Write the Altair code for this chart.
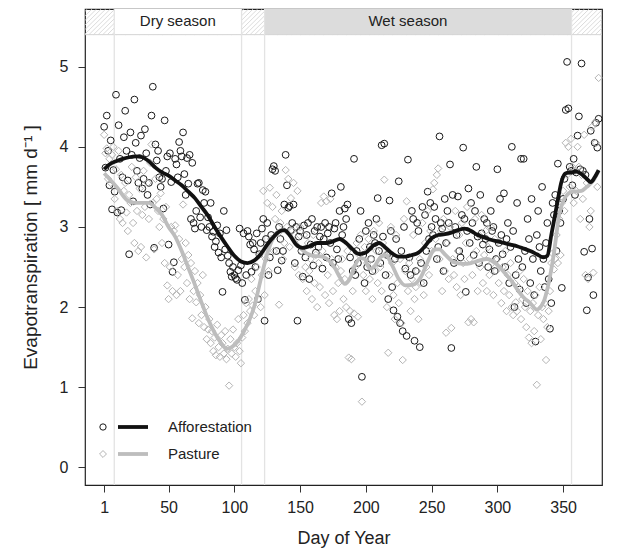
import altair as alt
import pandas as pd
import numpy as np

# ---------------- data ----------------
# Daily evapotranspiration, Afforestation (circles)
AF = [4.25, 3.74, 4.39, 3.95, 3.52, 4.08, 3.22, 3.71, 3.44, 4.65,
      3.18, 4.27, 3.85, 3.21, 3.62, 4.12, 4.45, 3.95, 3.58, 2.66,
      4.18, 3.90, 3.32, 4.59, 4.05, 3.70, 3.55, 3.86, 4.14, 3.48,
      3.60, 4.22, 3.92, 3.40, 3.55, 3.28, 4.39, 4.75, 2.74, 4.03,
      3.83, 3.95, 3.62, 3.50, 3.60, 3.23, 4.33, 3.70, 3.88, 2.78,
      3.92, 3.56, 2.44, 2.56, 3.85, 3.78, 3.62, 4.06, 3.95, 3.88,
      4.18, 3.66, 3.40, 3.86, 3.54, 3.90, 3.10, 3.80, 3.05, 2.98,
      3.20, 3.54, 3.55, 3.12, 3.00, 3.46, 3.30, 3.44, 2.96, 3.12,
      3.00, 3.30, 2.88, 2.94, 2.75, 2.82, 3.02, 2.68, 2.92, 2.62,
      2.19, 3.20, 2.72, 2.96, 2.64, 2.55, 2.44, 2.38, 2.50, 2.40,
      2.36, 2.34, 2.46, 2.98, 2.52, 2.30, 2.92, 2.09, 2.40, 2.95,
      2.88, 2.78, 2.44, 2.80, 2.72, 2.50, 2.92, 2.10, 2.66, 2.80,
      2.98, 3.10, 1.83, 2.85, 3.05, 2.40, 2.62, 2.90, 3.72, 3.76,
      3.70, 2.70, 2.46, 3.00, 2.85, 2.58, 2.70, 3.28, 3.90, 3.52,
      3.24, 3.26, 2.96, 3.05, 3.28, 2.55, 3.00, 1.83, 2.88, 2.95,
      2.70, 2.38, 3.02, 2.62, 2.90, 3.05, 2.35, 2.78, 3.10, 2.52,
      2.95, 2.68, 3.00, 2.75, 2.88, 3.00, 2.48, 2.85, 3.05, 2.62,
      2.92, 3.00, 2.80, 3.42, 2.55, 2.98, 3.05, 2.72, 2.60, 3.20,
      3.50, 2.90, 3.00, 3.23, 3.10, 3.28, 1.85, 2.62, 1.80, 2.45,
      3.85, 2.40, 2.70, 2.55, 2.85, 3.20, 1.13, 2.65, 2.30, 2.95,
      2.50, 3.05, 2.75, 2.60, 2.45, 2.90, 2.80, 3.10, 3.36, 2.70,
      2.55, 4.02, 2.88, 4.04, 2.40, 2.65, 2.10, 3.33, 2.95, 2.25,
      1.96, 2.60, 2.85, 1.88, 3.57, 1.80, 2.70, 1.70, 3.00, 2.48,
      1.64, 3.84, 2.62, 2.40, 3.20, 3.10, 1.58, 2.45, 3.05, 2.95,
      1.50, 2.55, 3.25, 2.30, 3.15, 2.70, 3.44, 2.85, 3.30, 3.00,
      2.90, 3.25, 3.10, 2.60, 2.75, 4.13, 3.05, 2.98, 2.45, 3.35,
      2.80, 3.20, 3.05, 3.78, 1.49, 3.40, 2.55, 3.00, 2.90, 3.38,
      2.70, 2.62, 3.15, 3.99, 3.10, 2.19, 2.95, 3.48, 2.80, 3.30,
      3.05, 2.65, 3.20, 3.75, 2.88, 2.55, 3.40, 2.92, 2.78, 3.10,
      2.85, 3.05, 2.50, 2.72, 3.20, 2.95, 3.00, 2.45, 2.60, 3.72,
      2.80, 3.35, 2.90, 2.66, 3.42, 2.50, 2.85, 3.05, 2.30, 2.75,
      4.00, 2.95, 2.00, 2.40, 3.30, 2.60, 2.22, 3.85, 2.50, 3.85,
      2.70, 2.05, 3.10, 2.85, 2.30, 3.35, 2.60, 2.15, 1.57, 2.90,
      3.20, 2.75, 2.45, 3.50, 2.60, 2.25, 2.80, 3.05, 2.35, 1.73,
      2.05, 3.30, 3.15, 3.40, 2.70, 3.79, 3.20, 3.05, 2.24, 3.35,
      3.60, 4.46, 5.06, 4.48, 3.75, 3.70, 3.52, 3.85, 3.40, 3.68,
      4.14, 4.38, 3.72, 5.04, 3.70, 2.69, 3.65, 1.96, 2.37, 3.10,
      4.20, 2.73, 2.15, 4.05, 4.30, 3.99, 4.35]

# Daily evapotranspiration, Pasture (diamonds)
PA = [4.15, 3.92, 3.98, 3.60, 3.85, 3.55, 3.90, 4.00, 3.35, 3.72,
      3.20, 3.95, 3.10, 3.65, 3.05, 3.45, 3.55, 3.18, 2.95, 3.40,
      3.30, 3.75, 3.05, 2.80, 3.62, 3.20, 2.70, 3.48, 2.75, 3.15,
      3.70, 3.25, 2.62, 3.55, 3.10, 3.80, 4.03, 3.30, 2.72, 3.60,
      3.35, 3.20, 3.00, 3.42, 2.80, 3.10, 2.55, 3.25, 2.27, 2.10,
      2.50, 3.00, 2.20, 2.95, 3.02, 2.15, 2.40, 2.85, 2.20, 2.60,
      3.28, 2.50, 2.80, 2.30, 2.65, 2.10, 2.55, 1.86, 2.20, 2.45,
      2.06, 2.30, 1.80, 2.15, 1.90, 2.40, 1.75, 2.00, 1.60, 1.72,
      1.85, 1.55, 1.70, 1.45, 1.62, 1.40, 1.78, 1.50, 1.38, 1.65,
      1.55, 1.42, 1.70, 1.35, 1.48, 1.02, 1.60, 1.42, 1.72, 1.50,
      1.38, 1.55, 1.85, 1.45, 1.30, 1.62, 1.90, 1.70, 2.05, 1.80,
      2.10, 1.95, 2.35, 2.02, 1.90, 2.20, 2.50, 2.10, 2.65, 2.00,
      2.40, 3.45, 2.15, 2.60, 3.30, 2.45, 3.49, 2.85, 3.25, 2.70,
      3.10, 3.40, 2.92, 2.03, 3.05, 3.20, 2.60, 2.80, 3.71, 3.00,
      3.60, 2.75, 3.36, 2.95, 3.55, 2.50, 2.85, 3.45, 2.40, 3.00,
      2.70, 2.35, 2.90, 2.50, 2.20, 2.80, 2.45, 2.60, 2.10, 2.90,
      2.30, 2.65, 2.00, 2.55, 2.25, 3.30, 2.70, 3.38, 2.15, 3.32,
      2.40, 2.05, 3.35, 2.60, 2.20, 1.90, 2.50, 1.85, 2.30, 1.95,
      2.45, 2.60, 2.10, 2.35, 2.00, 2.70, 1.37, 1.95, 1.35, 2.20,
      1.92, 2.50, 2.80, 1.88, 2.65, 2.90, 0.82, 2.40, 2.75, 2.20,
      2.55, 2.85, 2.35, 2.60, 2.10, 2.95, 2.45, 2.70, 2.30, 3.05,
      2.50, 2.20, 2.80, 3.59, 2.65, 2.00, 1.43, 2.40, 3.00, 2.55,
      2.15, 1.85, 2.90, 2.30, 2.05, 2.60, 1.80, 1.34, 3.10, 2.45,
      3.32, 2.20, 2.55, 1.95, 2.35, 2.90, 2.10, 2.25, 2.45, 1.85,
      2.60, 2.30, 3.05, 2.15, 2.80, 2.50, 3.20, 2.40, 2.95, 2.70,
      3.47, 3.55, 2.85, 3.65, 3.73, 2.60, 2.95, 2.20, 3.10, 2.45,
      1.68, 2.80, 2.35, 3.00, 1.74, 2.60, 2.40, 3.20, 2.25, 2.70,
      2.90, 2.15, 3.05, 2.55, 2.35, 2.80, 3.25, 1.81, 2.60, 1.85,
      2.40, 1.81, 3.10, 2.70, 2.20, 2.90, 2.50, 3.15, 2.30, 2.65,
      2.95, 2.20, 2.75, 2.40, 3.00, 2.55, 2.15, 2.85, 2.45, 2.60,
      2.30, 2.80, 2.05, 2.50, 2.20, 2.70, 1.95, 2.40, 2.15, 2.55,
      2.00, 1.90, 2.30, 2.06, 1.95, 2.25, 2.45, 1.85, 2.10, 2.35,
      2.00, 1.75, 2.20, 1.62, 1.95, 1.55, 2.05, 1.70, 2.15, 1.03,
      1.90, 2.25, 1.60, 2.00, 1.85, 2.05, 1.34, 1.75, 1.95, 2.20,
      2.55, 2.67, 2.47, 2.60, 2.90, 2.55, 3.10, 2.65, 3.30, 3.45,
      3.20, 4.05, 3.65, 4.00, 3.50, 4.10, 3.75, 3.30, 3.70, 3.45,
      4.00, 3.75, 3.10, 3.65, 3.35, 4.15, 2.40, 3.55, 2.35, 3.00,
      3.20, 4.25, 2.43, 4.30, 4.05, 3.50, 4.86]

DAYS_AF = list(range(1, len(AF) + 1))
DAYS_PA = list(range(1, len(PA) + 1))

# Smoothed curves
BL_DAY = [1, 5, 10, 15, 20, 25, 30, 35, 40, 45, 50, 55, 60, 65, 70, 75, 80, 85, 90, 95,
          100, 105, 110, 115, 120, 125, 130, 135, 138, 142, 147, 152, 157, 163, 170, 175, 180, 185, 190, 195,
          200, 205, 210, 215, 220, 225, 230, 235, 240, 245, 250, 255, 260, 265, 270, 275, 280, 285, 290, 295,
          300, 305, 310, 315, 320, 325, 330, 335, 338, 341, 345, 349, 352, 356, 360, 364, 368, 371, 374, 377]
BL_VAL = [3.72, 3.78, 3.82, 3.85, 3.87, 3.88, 3.87, 3.82, 3.74, 3.68, 3.64, 3.58, 3.52, 3.44, 3.36, 3.25, 3.14, 3.0, 2.87, 2.75,
          2.64, 2.57, 2.55, 2.58, 2.66, 2.78, 2.88, 2.95, 2.96, 2.9, 2.78, 2.74, 2.76, 2.8, 2.8, 2.82, 2.85, 2.8, 2.72, 2.66,
          2.68, 2.76, 2.8, 2.74, 2.67, 2.63, 2.63, 2.65, 2.68, 2.76, 2.86, 2.9, 2.91, 2.93, 2.96, 2.98, 2.95, 2.9, 2.87, 2.84,
          2.82, 2.8, 2.78, 2.76, 2.73, 2.7, 2.66, 2.62, 2.64, 2.9, 3.25, 3.58, 3.67, 3.68, 3.69, 3.66, 3.6, 3.56, 3.62, 3.71]

GR_DAY = [1, 5, 11, 18, 24, 30, 35, 40, 45, 50, 55, 60, 65, 70, 75, 80, 85, 90, 94, 98,
          103, 108, 111, 115, 118, 122, 126, 131, 136, 140, 145, 150, 155, 160, 167, 172, 176, 180, 184, 188,
          192, 196, 199, 203, 207, 211, 215, 220, 225, 230, 236, 242, 248, 252, 256, 260, 267, 274, 280, 286,
          292, 299, 306, 312, 316, 320, 325, 330, 335, 339, 343, 347, 352, 357, 364, 368, 373, 377]
GR_VAL = [3.67, 3.6, 3.49, 3.34, 3.30, 3.3, 3.3, 3.24, 3.15, 3.0, 2.88, 2.7, 2.49, 2.28, 2.06, 1.85, 1.68, 1.55, 1.48, 1.5,
          1.58, 1.72, 1.82, 2.0, 2.2, 2.48, 2.72, 2.9, 2.96, 2.93, 2.84, 2.74, 2.67, 2.64, 2.63, 2.58, 2.5, 2.38, 2.29, 2.36,
          2.53, 2.61, 2.6, 2.48, 2.52, 2.62, 2.65, 2.52, 2.35, 2.27, 2.28, 2.38, 2.6, 2.72, 2.72, 2.66, 2.56, 2.54, 2.55, 2.58,
          2.6, 2.54, 2.42, 2.3, 2.2, 2.12, 2.05, 1.97, 2.06, 2.3, 2.67, 3.15, 3.38, 3.44, 3.45, 3.5, 3.58, 3.7]

SERIES = ["Afforestation", "Pasture"]
SEASON_NAMES = ["Dry season", "Wet season"]
SEASON_START = [8.7, 123]
SEASON_END = [105.5, 356.4]
SEASON_LABEL_X = [57, 232]
DIVIDERS = [8.7, 105.5, 123, 356.4]
X_TICKS = [1, 50, 100, 150, 200, 250, 300, 350]
Y_TICKS = [0, 1, 2, 3, 4, 5]

X_DOM = [-13.56, 379.56]
Y_DOM = [-0.22, 5.72]
BAND_LO = 5.40

FONT = "Liberation Sans"
INK = "#1a1a1a"
GREY_PT = "#b4b4b4"
GREY_LN = "#bdbdbd"

xs = alt.Scale(domain=X_DOM, nice=False, zero=False)
ys = alt.Scale(domain=Y_DOM, nice=False, zero=False)
xax = alt.Axis(values=X_TICKS, title="Day of Year", labelPadding=7, titlePadding=14,
               labelFontSize=16, titleFontSize=18)
yax = alt.Axis(values=Y_TICKS, title="Evapotranspiration [ mm d\u207b\u00b9 ]", labelPadding=10,
               titlePadding=19, labelFontSize=16, titleFontSize=19)


def X(f):
    return alt.X(f, type="quantitative", scale=xs, axis=xax)


def Y(f):
    return alt.Y(f, type="quantitative", scale=ys, axis=yax)


# ---------------- season band ----------------
hatch_pos = np.arange(X_DOM[0] - 25, X_DOM[1] + 3, 3.5)
df_hatch = pd.DataFrame({"day": hatch_pos, "day2": hatch_pos + 19.8,
                         "lo": BAND_LO, "hi": Y_DOM[1]})
hatch = alt.Chart(df_hatch).mark_rule(color="#d2d2d2", strokeWidth=0.8, clip=True).encode(
    x=X("day"), x2="day2", y=Y("lo"), y2="hi")

df_season = pd.DataFrame({"name": SEASON_NAMES, "day": SEASON_START, "day2": SEASON_END,
                          "mid": SEASON_LABEL_X, "ty": 5.565,
                          "lo": BAND_LO, "hi": Y_DOM[1], "fill": ["#ffffff", "#dcdcdc"]})
band = alt.Chart(df_season).mark_rect().encode(
    x=X("day"), x2="day2", y=Y("lo"), y2="hi", color=alt.Color("fill:N", scale=None))
band_text = alt.Chart(df_season).mark_text(
    font=FONT, fontSize=15, color="#222", baseline="middle").encode(
    x=X("mid"), y=Y("ty"), text="name:N")

df_base = pd.DataFrame({"day": [X_DOM[0]], "day2": [X_DOM[1]], "lo": [BAND_LO]})
band_line = alt.Chart(df_base).mark_rule(color="#d4d4d4", strokeWidth=1).encode(
    x=X("day"), x2="day2", y=Y("lo"))

df_div = pd.DataFrame({"day": DIVIDERS, "lo": Y_DOM[0], "hi": Y_DOM[1]})
dividers = alt.Chart(df_div).mark_rule(color="#e3e3e3", strokeWidth=1.3).encode(
    x=X("day"), y=Y("lo"), y2="hi")

# ---------------- data layers ----------------
df_af = pd.DataFrame({"day": DAYS_AF, "et": AF})
df_pa = pd.DataFrame({"day": DAYS_PA, "et": PA})
pts_af = alt.Chart(df_af).mark_point(shape="circle", filled=False, color=INK, size=46,
                                     strokeWidth=1, opacity=1).encode(x=X("day"), y=Y("et"))
pts_pa = alt.Chart(df_pa).mark_point(shape="diamond", filled=False, color=GREY_PT, size=54,
                                     strokeWidth=1, opacity=1).encode(x=X("day"), y=Y("et"))

df_bl = pd.DataFrame({"day": BL_DAY, "et": BL_VAL})
df_gr = pd.DataFrame({"day": GR_DAY, "et": GR_VAL})
line_af = alt.Chart(df_bl).mark_line(color="#111111", strokeWidth=3.8, interpolate="monotone").encode(
    x=X("day"), y=Y("et"))
line_pa = alt.Chart(df_gr).mark_line(color=GREY_LN, strokeWidth=3.8, interpolate="monotone").encode(
    x=X("day"), y=Y("et"))

# ---------------- legend (inside, bottom-left) ----------------
legend_layers = []
for name, ypx, shape, col, lcol, sz in [(SERIES[0], 418, "circle", INK, "#111111", 40),
                                         (SERIES[1], 445, "diamond", GREY_PT, GREY_LN, 48)]:
    d = pd.DataFrame({"series": [name]})
    legend_layers.append(alt.Chart(d).mark_point(shape=shape, filled=False, color=col, size=sz,
                                                 strokeWidth=1, opacity=1).encode(
        x=alt.value(18), y=alt.value(ypx)))
    legend_layers.append(alt.Chart(d).mark_rule(color=lcol, strokeWidth=3.8).encode(
        x=alt.value(33), x2=alt.value(63), y=alt.value(ypx)))
    legend_layers.append(alt.Chart(d).mark_text(font=FONT, fontSize=15, color="#222", align="left",
                                                baseline="middle").encode(
        x=alt.value(83), y=alt.value(ypx), text="series:N"))

chart = alt.layer(
    hatch, band, band_line, dividers, band_text,
    pts_af, pts_pa, line_pa, line_af,
    *legend_layers
).properties(
    width=517, height=476,
    autosize=alt.AutoSizeParams(type="none"),
    padding={"left": 77, "top": 1, "right": 8, "bottom": 63},
    background="white"
).configure_view(
    stroke="#222", strokeWidth=1.2
).configure_axis(
    labelFont=FONT, titleFont=FONT, labelColor="#222", titleColor="#222",
    tickColor="#333", tickSize=7, tickWidth=1, domain=False, grid=False,
    titleFontWeight="normal"
)

chart.save("out.html", embed_options={"renderer": "svg", "actions": False})
